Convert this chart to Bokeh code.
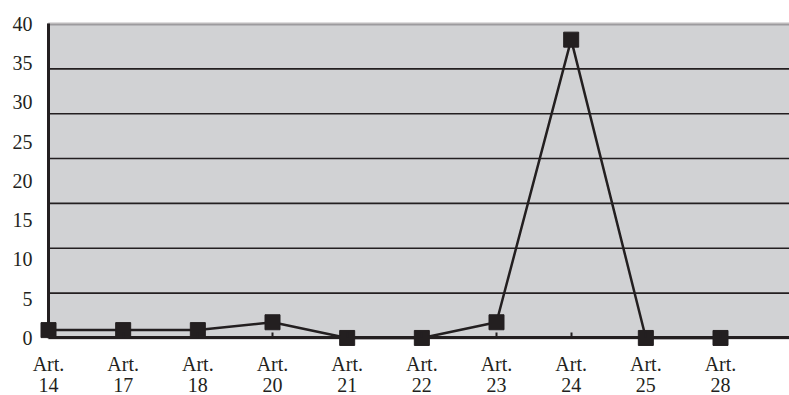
from bokeh.plotting import figure
from bokeh.models import ColumnDataSource, FixedTicker, LinearAxis, Range1d, BoxAnnotation
from bokeh.embed import file_html
from bokeh.resources import INLINE

categories = ["Art.\n14", "Art.\n17", "Art.\n18", "Art.\n20", "Art.\n21",
              "Art.\n22", "Art.\n23", "Art.\n24", "Art.\n25", "Art.\n28"]
values = [1, 1, 1, 2, 0, 0, 2, 38, 0, 0]
y_ticks = [0, 5, 10, 15, 20, 25, 30, 35, 40]

DARK = "#231f20"
GRAY = "#d1d2d4"
FONT = "Liberation Serif"

Y_TOP = 40
X_START, X_END = -0.643, 9.924
Y_START, Y_END = -7.33, 42.99

x_idx = list(range(len(categories)))
src = ColumnDataSource(dict(x=x_idx, y=values))

p = figure(width=789, height=395, output_backend="svg", toolbar_location=None,
           x_range=Range1d(X_START, X_END), y_range=Range1d(Y_START, Y_END),
           x_axis_location=None, y_axis_location=None,
           min_border=0, background_fill_color="white",
           border_fill_color="white", outline_line_color=None)
p.grid.visible = False

# plot area with its border
p.add_layout(BoxAnnotation(left=0, right=X_END + 1, bottom=0, top=Y_TOP,
                           fill_color=GRAY, fill_alpha=1.0, line_color=DARK,
                           line_width=3, level="image"))

# horizontal grid: seven equal bands
gy = [Y_TOP * i / 7 for i in range(1, 7)]
p.segment(x0=[0] * len(gy), x1=[X_END + 1] * len(gy), y0=gy, y1=gy,
          line_color=DARK, line_width=1.6, level="underlay")

# y axis at x = 0
ya = LinearAxis(fixed_location=0, bounds=(0, Y_TOP), ticker=FixedTicker(ticks=y_ticks),
                axis_line_color=DARK, axis_line_width=3,
                major_tick_line_color=None, minor_tick_line_color=None,
                major_tick_in=0, major_tick_out=0, minor_tick_out=0,
                major_label_text_font=FONT, major_label_text_font_size="20px",
                major_label_text_color=DARK, major_label_standoff=16)
p.add_layout(ya, "left")

# x axis at y = 0
xa = LinearAxis(fixed_location=0, bounds=(0, X_END + 1), ticker=FixedTicker(ticks=x_idx),
                major_label_overrides={i: c for i, c in zip(x_idx, categories)},
                axis_line_color=DARK, axis_line_width=3,
                major_tick_in=5, major_tick_out=0, major_tick_line_color=DARK,
                major_tick_line_width=2, minor_tick_line_color=None, minor_tick_out=0,
                major_label_text_font=FONT, major_label_text_font_size="20px",
                major_label_text_color=DARK, major_label_text_line_height=0.95,
                major_label_standoff=15)
p.add_layout(xa, "below")

p.line("x", "y", source=src, line_color=DARK, line_width=2.5)
p.scatter("x", "y", source=src, marker="square", size=15,
          fill_color=DARK, line_color=DARK)

open("out.html", "w").write(file_html(p, INLINE))
